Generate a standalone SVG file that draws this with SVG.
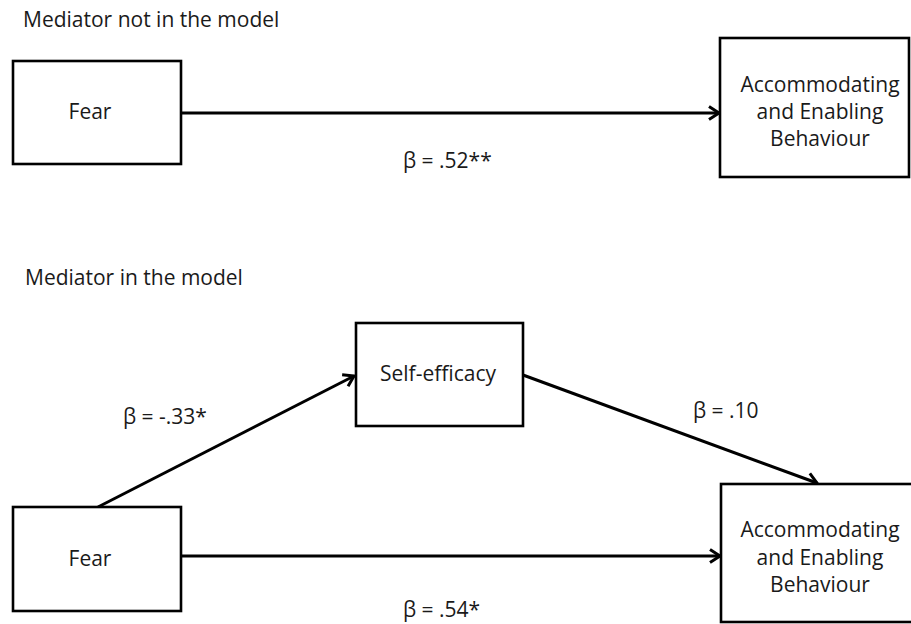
<svg xmlns="http://www.w3.org/2000/svg" width="911" height="624" viewBox="0 0 911 624">
<defs>
<style>
.box{fill:#fff;stroke:#000;stroke-width:2.6}
.t{font-family:"Open Sans","Liberation Sans",sans-serif;font-size:21px;fill:#1a1a1a}
.c{text-anchor:middle}
.edge{fill:none;stroke:#000;stroke-width:3;marker-end:url(#arr)}
</style>
<marker id="arr" markerUnits="userSpaceOnUse" markerWidth="16" markerHeight="16" refX="14" refY="8" orient="auto" overflow="visible">
<path d="M4,1.5 L14,8 L4,14.5" fill="none" stroke="#000" stroke-width="3" stroke-linejoin="miter"/>
</marker>
</defs>
<rect width="911" height="624" fill="#fff"/>
<text class="t" x="23" y="27">Mediator not in the model</text>
<text class="t" x="25" y="285">Mediator in the model</text>
<g id="connectors">
<line class="edge" x1="181" y1="113" x2="719" y2="113"/>
<line class="edge" x1="98" y1="507" x2="354" y2="376"/>
<line class="edge" x1="523" y1="375" x2="817" y2="483"/>
<line class="edge" x1="181" y1="556" x2="720" y2="556"/>
<text class="t" x="403" y="168">β = .52**</text>
<text class="t" x="123" y="424">β = -.33*</text>
<text class="t" x="693" y="418">β = .10</text>
<text class="t" x="403" y="617">β = .54*</text>
</g>
<g id="fear1">
<rect class="box" x="13" y="61" width="168" height="103"/>
<text class="t c" x="90" y="119">Fear</text>
</g>
<g id="aeb1">
<rect class="box" x="720" y="38" width="189" height="139"/>
<text class="t c" x="820" y="92">Accommodating</text>
<text class="t c" x="820" y="119">and Enabling</text>
<text class="t c" x="820" y="146">Behaviour</text>
</g>
<g id="fear2">
<rect class="box" x="13" y="507" width="168" height="104"/>
<text class="t c" x="90" y="566">Fear</text>
</g>
<g id="selfefficacy">
<rect class="box" x="356" y="323" width="167" height="103"/>
<text class="t c" x="438" y="381">Self-efficacy</text>
</g>
<g id="aeb2">
<rect class="box" x="721" y="484" width="200" height="138"/>
<text class="t c" x="820" y="537">Accommodating</text>
<text class="t c" x="820" y="565">and Enabling</text>
<text class="t c" x="820" y="592">Behaviour</text>
</g>
</svg>
